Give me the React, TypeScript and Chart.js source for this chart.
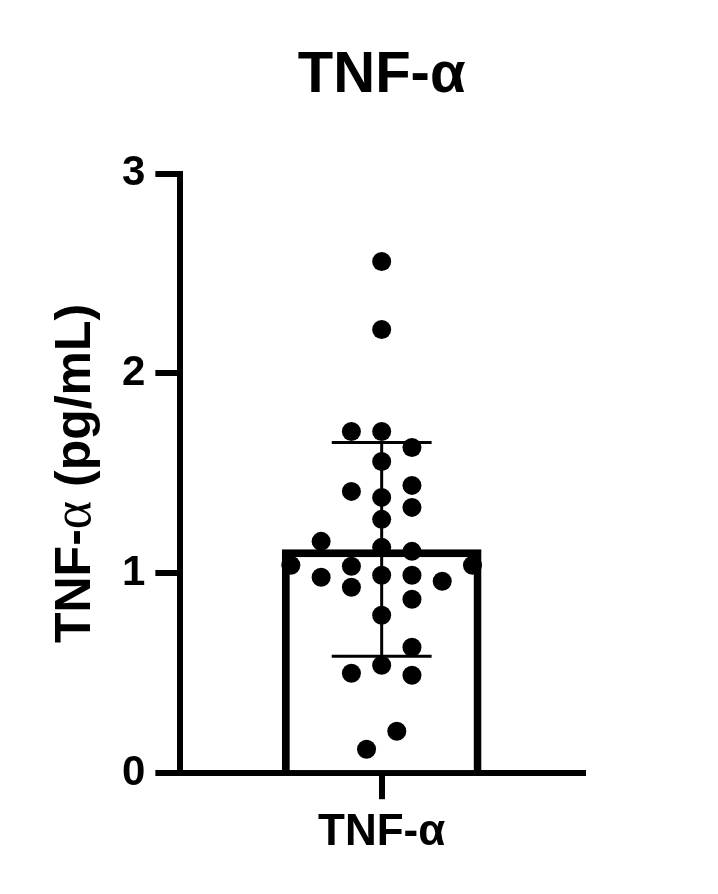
import React, { useEffect, useRef } from "react";
import { Chart, registerables } from "chart.js";

Chart.register(...registerables);

const categories = ["TNF-α"];
const meanValues = [1.12];
const sdValues = [0.535];

// individual samples (pg/mL) and the swarm column each dot sits in
const sampleValues = [
  2.56, 2.22, 1.71, 1.71, 1.63, 1.56, 1.44, 1.41, 1.38, 1.33, 1.27, 1.16, 1.13, 1.11, 1.04,
  1.04, 1.035, 0.99, 0.99, 0.98, 0.96, 0.93, 0.87, 0.79, 0.63, 0.54, 0.5, 0.49, 0.21, 0.12,
];
const sampleColumns = [
  0, 0, -1, 0, 1, 0, 1, -1, 0, 1, 0, -2, 0, 1, -3, 3, -1, 1, 0, -2, 2, -1, 1, 0, 1, 0, -1, 1,
  0.5, -0.5,
];

const chartTitle = "TNF-α";
const yTitleParts = ["TNF-", "α", " (pg/mL)"];

const SANS = '"Liberation Sans", Arial, sans-serif';
const SERIF = '"Liberation Serif", "Times New Roman", serif';
const Y_TITLE_SIZE = 50;
const Y_TITLE_PAD = { top: 46, bottom: 6 };

const errorBars = {
  id: "errorBars",
  afterDatasetDraw(chart: any, args: any) {
    if (args.index !== 1) return;
    const { ctx } = chart;
    const y = chart.scales.y;
    args.meta.data.forEach((bar: any, i: number) => {
      const { x, width } = bar.getProps(["x", "width"], true);
      const top = y.getPixelForValue(meanValues[i] + sdValues[i]);
      const bottom = y.getPixelForValue(meanValues[i] - sdValues[i]);
      const half = width / 4;
      ctx.save();
      ctx.strokeStyle = "#000";
      ctx.lineWidth = 3;
      ctx.beginPath();
      ctx.moveTo(x, top);
      ctx.lineTo(x, bottom);
      ctx.moveTo(x - half, top);
      ctx.lineTo(x + half, top);
      ctx.moveTo(x - half, bottom);
      ctx.lineTo(x + half, bottom);
      ctx.stroke();
      ctx.restore();
    });
  },
};

// y title drawn by hand so the alpha can use a serif face like the original
const yTitle = {
  id: "yTitle",
  afterDraw(chart: any) {
    const { ctx } = chart;
    const s = chart.scales.y;
    const cx = s.left + Y_TITLE_PAD.top + (Y_TITLE_SIZE * 1.2) / 2;
    const cy = (s.top + s.bottom) / 2;
    const fonts = [
      `bold ${Y_TITLE_SIZE}px ${SANS}`,
      `${Y_TITLE_SIZE + 4}px ${SERIF}`,
      `bold ${Y_TITLE_SIZE}px ${SANS}`,
    ];
    ctx.save();
    let total = 0;
    const widths = yTitleParts.map((t, i) => {
      ctx.font = fonts[i];
      const w = ctx.measureText(t).width;
      total += w;
      return w;
    });
    ctx.translate(cx, cy);
    ctx.rotate(-Math.PI / 2);
    ctx.fillStyle = "#000";
    ctx.textBaseline = "middle";
    ctx.textAlign = "left";
    let pos = -total / 2;
    yTitleParts.forEach((t, i) => {
      ctx.font = fonts[i];
      ctx.fillText(t, pos, 0);
      pos += widths[i];
    });
    ctx.restore();
  },
};

export default function App() {
  const canvasRef = useRef<HTMLCanvasElement>(null);

  useEffect(() => {
    document.body.style.margin = "0";
    if (!canvasRef.current) return;

    const chart = new Chart(canvasRef.current, {
      type: "bar",
      data: {
        labels: categories,
        datasets: [
          {
            type: "scatter",
            data: sampleValues.map((v, i) => ({ x: sampleColumns[i], y: v })),
            xAxisID: "xj",
            yAxisID: "y",
            backgroundColor: "#000",
            borderWidth: 0,
            pointRadius: 9.5,
            order: 0,
          } as any,
          {
            type: "bar",
            data: meanValues,
            xAxisID: "x",
            yAxisID: "y",
            backgroundColor: "#fff",
            borderColor: "#000",
            borderWidth: 8,
            grouped: false,
            categoryPercentage: 1,
            barPercentage: 0.496,
            order: 1,
          },
        ],
      },
      options: {
        responsive: false,
        animation: false,
        events: [],
        layout: { padding: { left: 0, right: 135, top: 0, bottom: 28 } },
        plugins: {
          legend: { display: false },
          tooltip: { enabled: false },
          title: {
            display: true,
            text: chartTitle,
            color: "#000",
            fullSize: false,
            font: { family: SANS, size: 58, weight: "bold" },
            padding: { top: 41, bottom: 63 },
          },
        },
        scales: {
          x: {
            type: "category",
            offset: true,
            grid: {
              offset: false,
              drawOnChartArea: false,
              drawTicks: true,
              tickLength: 26,
              lineWidth: 6,
              color: "#000",
            },
            border: { display: true, width: 6, color: "#000" },
            ticks: {
              color: "#000",
              padding: 7,
              font: { family: SANS, size: 44, weight: "bold" },
            },
          },
          xj: {
            type: "linear",
            display: false,
            offset: false,
            min: -6.65,
            max: 6.65,
          },
          y: {
            type: "linear",
            min: 0,
            max: 3,
            grid: {
              drawOnChartArea: false,
              drawTicks: true,
              tickLength: 25,
              lineWidth: 6,
              color: "#000",
            },
            border: { display: true, width: 6, color: "#000" },
            ticks: {
              stepSize: 1,
              color: "#000",
              padding: 10,
              font: { family: SANS, size: 42, weight: "bold" },
            },
            title: {
              display: true,
              text: yTitleParts.join(""),
              color: "rgba(0,0,0,0)",
              font: { family: SANS, size: Y_TITLE_SIZE, weight: "bold" },
              padding: Y_TITLE_PAD,
            },
          },
        },
      },
      plugins: [errorBars, yTitle],
    });

    return () => {
      chart.destroy();
    };
  }, []);

  return <canvas ref={canvasRef} width={718} height={894} />;
}
